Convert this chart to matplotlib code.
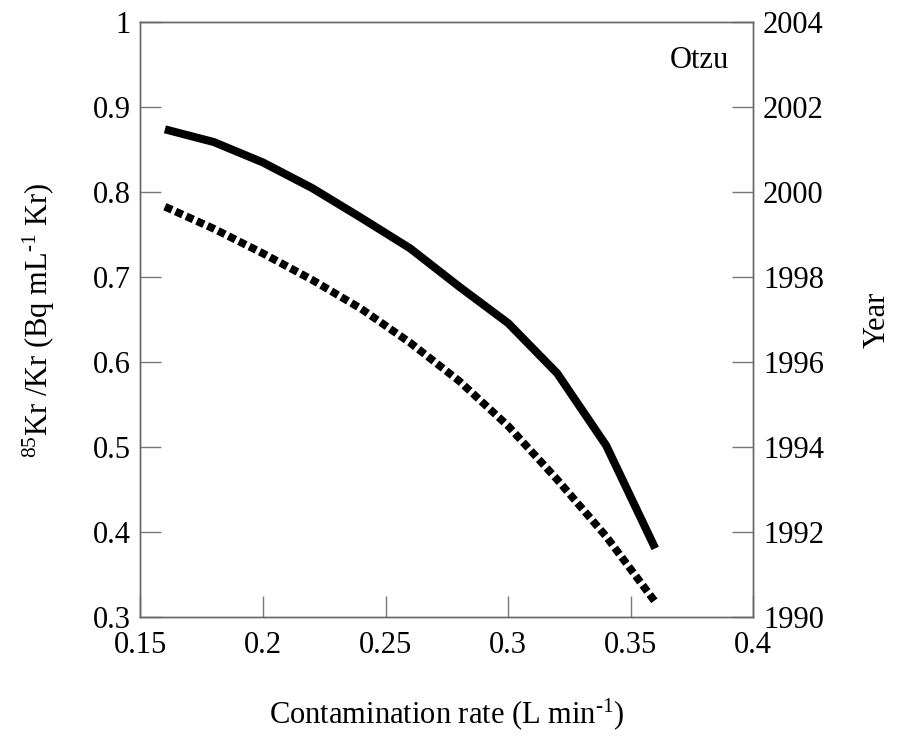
import matplotlib.pyplot as plt
import numpy as np

# Contamination rate (L/min) and 85Kr/Kr values
rate = [0.16, 0.18, 0.20, 0.22, 0.24, 0.26, 0.28, 0.30, 0.32, 0.34, 0.36]
kr_solid = [0.874, 0.859, 0.835, 0.805, 0.770, 0.734, 0.689, 0.646, 0.587, 0.502, 0.381]
kr_dotted = [0.783, 0.757, 0.728, 0.697, 0.663, 0.623, 0.578, 0.525, 0.462, 0.395, 0.318]

x_ticks = [0.15, 0.2, 0.25, 0.3, 0.35, 0.4]
y_ticks = [0.3, 0.4, 0.5, 0.6, 0.7, 0.8, 0.9, 1.0]
year_ticks = [1990, 1992, 1994, 1996, 1998, 2000, 2002, 2004]

plt.rcParams["font.family"] = ["Liberation Serif", "DejaVu Serif"]
plt.rcParams["mathtext.default"] = "regular"
plt.rcParams["font.size"] = 22

fig = plt.figure(figsize=(9, 7.41), dpi=100)
ax = fig.add_axes([0.156, 0.167, 0.681, 0.803])

ax.plot(rate, kr_solid, color="black", lw=5.8, solid_capstyle="butt",
        solid_joinstyle="miter")
ax.plot(rate, kr_dotted, color="black", lw=5.6, linestyle=(0, (1.0, 0.5)),
        dash_capstyle="butt")

ax.set_xlim(0.15, 0.4)
ax.set_ylim(0.3, 1.0)
ax.set_xticks(x_ticks)
ax.set_xticklabels(["0.15", "0.2", "0.25", "0.3", "0.35", "0.4"])
ax.set_yticks(y_ticks)
ax.set_yticklabels(["0.3", "0.4", "0.5", "0.6", "0.7", "0.8", "0.9", "1"])
ax.tick_params(direction="in", length=15, width=1, color="#777777", pad=7)
ax.tick_params(axis="x", pad=10)
for sp in ax.spines.values():
    sp.set_color("#666666")
    sp.set_linewidth(1)

ax.set_xlabel("Contamination rate (L min$^{\u20101}$)", labelpad=26)
ax.set_ylabel("$^{85}$Kr /Kr (Bq mL$^{\u20101}$ Kr)", labelpad=26)
ax.text(0.366, 0.955, "Otzu", ha="left", va="center")

ax2 = ax.twinx()
ax2.set_ylim(1990, 2004)
ax2.set_yticks(year_ticks)
ax2.tick_params(direction="in", length=15, width=1, color="#777777", pad=7)
for sp in ax2.spines.values():
    sp.set_color("#666666")
    sp.set_linewidth(1)
ax2.set_ylabel("Year", labelpad=28)

fig.savefig("out.png", dpi=100, facecolor="white")
